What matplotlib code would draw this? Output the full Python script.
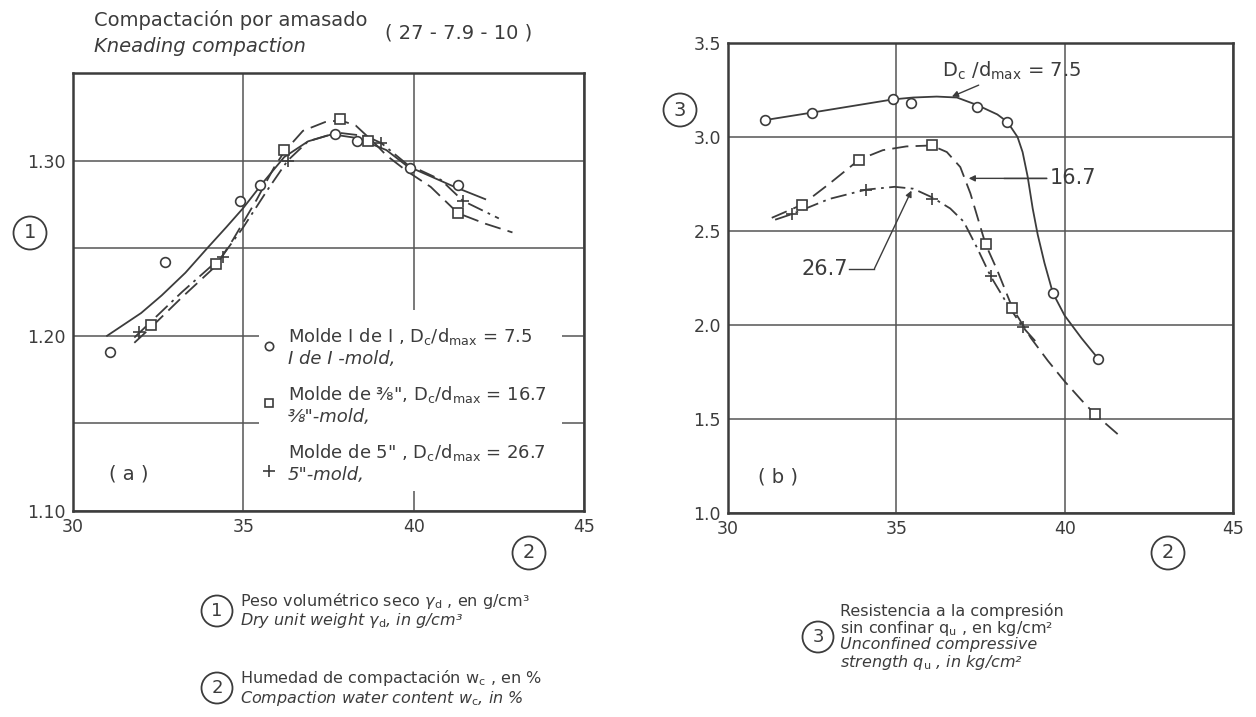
import matplotlib
matplotlib.use('Agg')
import matplotlib.pyplot as plt
from matplotlib.patches import Rectangle

plt.rcParams['font.family'] = ['DejaVu Sans']
plt.rcParams['mathtext.fontset'] = 'dejavusans'

INK = '#3c3c3c'
W, H = 1256, 717

# ---- (a) dry unit weight vs compaction water content ----
a_w_75 = [31.1, 32.7, 34.9, 35.5, 37.7, 38.35, 39.9, 41.3]
a_g_75 = [1.191, 1.242, 1.277, 1.286, 1.315, 1.311, 1.296, 1.286]
a_w_167 = [32.3, 34.2, 36.2, 37.85, 38.65, 41.3]
a_g_167 = [1.206, 1.241, 1.306, 1.324, 1.311, 1.270]
a_w_267 = [31.95, 34.4, 36.3, 39.05, 41.45]
a_g_267 = [1.202, 1.245, 1.300, 1.310, 1.277]

# fitted curves as drawn in the figure
a_cw_75 = [31.0, 32.0, 32.6, 33.3, 33.94, 34.5, 35.0, 35.6, 36.2, 36.9, 37.6, 38.3, 39.2, 39.8, 40.5, 41.2, 42.1]
a_cg_75 = [1.200, 1.213, 1.223, 1.236, 1.250, 1.262, 1.273, 1.288, 1.302, 1.311, 1.315, 1.313, 1.306, 1.297, 1.291, 1.285, 1.278]
a_cw_167 = [31.8, 32.3, 33.2, 34.2, 34.7, 35.4, 35.9, 36.2, 36.75, 37.4, 37.85, 38.3, 38.8, 39.2, 39.8, 40.5, 41.3, 42.1, 42.9]
a_cg_167 = [1.196, 1.205, 1.222, 1.240, 1.255, 1.278, 1.296, 1.305, 1.317, 1.322, 1.323, 1.320, 1.311, 1.303, 1.294, 1.285, 1.270, 1.264, 1.259]
a_cw_267 = [31.8, 32.5, 33.2, 34.36, 35.0, 35.7, 36.3, 36.9, 37.75, 38.6, 39.05, 39.8, 40.8, 41.45, 42.5]
a_cg_267 = [1.199, 1.212, 1.225, 1.245, 1.262, 1.283, 1.300, 1.311, 1.316, 1.314, 1.310, 1.298, 1.289, 1.277, 1.267]

# ---- (b) unconfined compressive strength vs water content ----
b_w_75 = [31.1, 32.5, 34.9, 35.45, 37.4, 38.3, 39.65, 41.0]
b_q_75 = [3.09, 3.13, 3.20, 3.18, 3.16, 3.08, 2.17, 1.82]
b_w_167 = [32.2, 33.9, 36.05, 37.65, 38.45, 40.9]
b_q_167 = [2.64, 2.88, 2.955, 2.43, 2.09, 1.525]
b_w_267 = [31.9, 34.1, 36.05, 37.8, 38.75]
b_q_267 = [2.59, 2.72, 2.67, 2.26, 1.99]

b_cw_75 = [31.1, 32.5, 33.7, 34.9, 35.5, 36.2, 36.8, 37.4, 38.0, 38.3, 38.6, 38.75, 38.9, 39.05, 39.2, 39.4, 39.65, 40.0, 40.5, 41.0]
b_cq_75 = [3.09, 3.13, 3.165, 3.20, 3.21, 3.215, 3.21, 3.17, 3.12, 3.08, 3.00, 2.92, 2.79, 2.62, 2.48, 2.33, 2.17, 2.05, 1.93, 1.82]
b_cw_167 = [31.3, 32.2, 33.0, 33.9, 34.6, 35.3, 36.05, 36.5, 36.9, 37.2, 37.45, 37.65, 38.0, 38.45, 39.0, 39.5, 40.0, 40.5, 40.9, 41.7]
b_cq_167 = [2.57, 2.64, 2.75, 2.88, 2.93, 2.95, 2.955, 2.92, 2.84, 2.70, 2.55, 2.43, 2.29, 2.09, 1.93, 1.81, 1.70, 1.60, 1.525, 1.40]
b_cw_267 = [31.4, 31.9, 33.0, 34.1, 34.95, 35.5, 36.05, 36.6, 37.0, 37.4, 37.8, 38.3, 38.75, 39.2]
b_cq_267 = [2.56, 2.59, 2.67, 2.72, 2.735, 2.725, 2.68, 2.62, 2.55, 2.41, 2.26, 2.11, 1.99, 1.90]

x_ticks = [30, 35, 40, 45]
a_yticks = [1.10, 1.20, 1.30]
a_ygrid = [1.15, 1.25]
b_yticks = [1.0, 1.5, 2.0, 2.5, 3.0, 3.5]


def fx(px):
    return px / W


def fy(py):
    return 1 - py / H


def style_axes(ax):
    for s in ax.spines.values():
        s.set_color(INK)
        s.set_linewidth(1.8)
    ax.tick_params(which='both', length=0, labelsize=12.5, labelcolor=INK, pad=5)
    ax.set_xticks(x_ticks)
    ax.grid(True, which='both', color='#555555', lw=1.1)
    ax.set_axisbelow(True)


def circled(x, y, s, fs=14):
    fig.text(fx(x), fy(y), s, ha='center', va='center', fontsize=fs, color=INK,
             bbox=dict(boxstyle='circle,pad=0.36', fc='white', ec=INK, lw=1.3))


fig = plt.figure(figsize=(W / 100, H / 100), dpi=100)

line_kw = dict(color=INK, lw=1.3, zorder=2)
mk_kw = dict(ls='none', mfc='white', mec=INK, mew=1.2, ms=7, zorder=3)

# ---------------- panel (a) ----------------
axa = fig.add_axes([fx(73), fy(511), 511 / W, 438 / H])
axa.set_xlim(30, 45)
axa.set_ylim(1.10, 1.35)
axa.set_yticks(a_yticks)
axa.set_yticklabels(['1.10', '1.20', '1.30'])
axa.set_yticks(a_ygrid, minor=True)
style_axes(axa)

axa.plot(a_cw_75, a_cg_75, ls='-', **line_kw)
axa.plot(a_cw_167, a_cg_167, ls=(0, (9, 4)), **line_kw)
axa.plot(a_cw_267, a_cg_267, ls=(0, (9, 3, 1.5, 3)), **line_kw)
axa.plot(a_w_75, a_g_75, marker='o', **mk_kw)
axa.plot(a_w_167, a_g_167, marker='s', **mk_kw)
axa.plot(a_w_267, a_g_267, marker='+', **{**mk_kw, 'ms': 9})

# legend area blanks the grid
axa.add_patch(Rectangle((35.45, 1.1115), 44.35 - 35.45, 1.2145 - 1.1115,
                        fc='white', ec='none', zorder=1))
leg_x = 36.3
axa.plot([35.75], [1.194], marker='o', **{**mk_kw, 'ms': 6})
axa.plot([35.75], [1.1615], marker='s', **{**mk_kw, 'ms': 6})
axa.plot([35.75], [1.123], marker='+', **{**mk_kw, 'ms': 8})
leg_fs = 13
axa.text(leg_x, 1.1995, r'Molde I de I , D$_\mathrm{c}$/d$_\mathrm{max}$ = 7.5',
         fontsize=leg_fs, color=INK, va='center', zorder=4)
axa.text(leg_x, 1.1865, 'I de I -mold,', fontsize=leg_fs, style='italic',
         color=INK, va='center', zorder=4)
axa.text(leg_x, 1.1665, 'Molde de \u215c", D$_\\mathrm{c}$/d$_\\mathrm{max}$ = 16.7',
         fontsize=leg_fs, color=INK, va='center', zorder=4)
axa.text(leg_x, 1.1535, '\u215c"-mold,', fontsize=leg_fs, style='italic',
         color=INK, va='center', zorder=4)
axa.text(leg_x, 1.1335, 'Molde de 5" , D$_\\mathrm{c}$/d$_\\mathrm{max}$ = 26.7',
         fontsize=leg_fs, color=INK, va='center', zorder=4)
axa.text(leg_x, 1.1205, '5"-mold,', fontsize=leg_fs, style='italic',
         color=INK, va='center', zorder=4)
axa.text(31.65, 1.121, '( a )', fontsize=14, color=INK, ha='center', va='center')

# ---------------- panel (b) ----------------
axb = fig.add_axes([fx(728), fy(513), 505 / W, 470 / H])
axb.set_xlim(30, 45)
axb.set_ylim(1.0, 3.5)
axb.set_yticks(b_yticks)
axb.set_yticklabels(['1.0', '1.5', '2.0', '2.5', '3.0', '3.5'])
style_axes(axb)

axb.plot(b_cw_75, b_cq_75, ls='-', **line_kw)
axb.plot(b_cw_167, b_cq_167, ls=(0, (9, 4)), **line_kw)
axb.plot(b_cw_267, b_cq_267, ls=(0, (9, 3, 1.5, 3)), **line_kw)
axb.plot(b_w_75, b_q_75, marker='o', **mk_kw)
axb.plot(b_w_167, b_q_167, marker='s', **mk_kw)
axb.plot(b_w_267, b_q_267, marker='+', **{**mk_kw, 'ms': 9})

arrow = dict(arrowstyle='-|>', color=INK, lw=1.0, mutation_scale=9, shrinkA=0, shrinkB=0)
axb.annotate(r'D$_\mathrm{c}$ /d$_\mathrm{max}$ = 7.5', xy=(36.65, 3.215), xytext=(36.35, 3.35),
             fontsize=14, color=INK, va='center', ha='left', arrowprops=arrow)
axb.annotate('16.7', xy=(37.15, 2.78), xytext=(39.55, 2.78),
             fontsize=15, color=INK, va='center', ha='left', arrowprops=arrow)
axb.plot([38.2, 39.45], [2.78, 2.78], color=INK, lw=1.0)
axb.text(33.55, 2.30, '26.7', fontsize=15, color=INK, va='center', ha='right')
axb.plot([33.6, 34.35], [2.30, 2.30], color=INK, lw=1.0)
axb.annotate('', xy=(35.45, 2.715), xytext=(34.35, 2.30), arrowprops=arrow)
axb.text(31.5, 1.19, '( b )', fontsize=14, color=INK, ha='center', va='center')

# ---------------- titles and notes ----------------
fig.text(fx(94), fy(20), 'Compactación por amasado', fontsize=14, color=INK, va='center')
fig.text(fx(94), fy(47), 'Kneading compaction', fontsize=14, color=INK, va='center', style='italic')
fig.text(fx(385), fy(33), '( 27 - 7.9 - 10 )', fontsize=14, color=INK, va='center')

circled(30, 233, '1')
circled(680, 110, '3')
circled(529, 553, '2')
circled(1168, 553, '2')

note_fs = 11.5
circled(217, 611, '1', 13)
fig.text(fx(240), fy(601), r'Peso volumétrico seco $\gamma_\mathrm{d}$ , en g/cm³',
         fontsize=note_fs, color=INK, va='center')
fig.text(fx(240), fy(621), r'Dry unit weight $\gamma_\mathrm{d}$, in g/cm³',
         fontsize=note_fs, color=INK, va='center', style='italic')
circled(217, 688, '2', 13)
fig.text(fx(240), fy(678), r'Humedad de compactación w$_\mathrm{c}$ , en %',
         fontsize=note_fs, color=INK, va='center')
fig.text(fx(240), fy(698), r'Compaction water content w$_\mathrm{c}$, in %',
         fontsize=note_fs, color=INK, va='center', style='italic')

note_fs2 = 11.5
circled(818, 637, '3', 13)
fig.text(fx(840), fy(611), 'Resistencia a la compresión',
         fontsize=note_fs2, color=INK, va='center')
fig.text(fx(840), fy(628), r'sin confinar q$_\mathrm{u}$ , en kg/cm²',
         fontsize=note_fs2, color=INK, va='center')
fig.text(fx(840), fy(645), 'Unconfined compressive',
         fontsize=note_fs2, color=INK, va='center', style='italic')
fig.text(fx(840), fy(662), r'strength q$_\mathrm{u}$ , in kg/cm²',
         fontsize=note_fs2, color=INK, va='center', style='italic')

fig.savefig('out.png', dpi=100, facecolor='white')
